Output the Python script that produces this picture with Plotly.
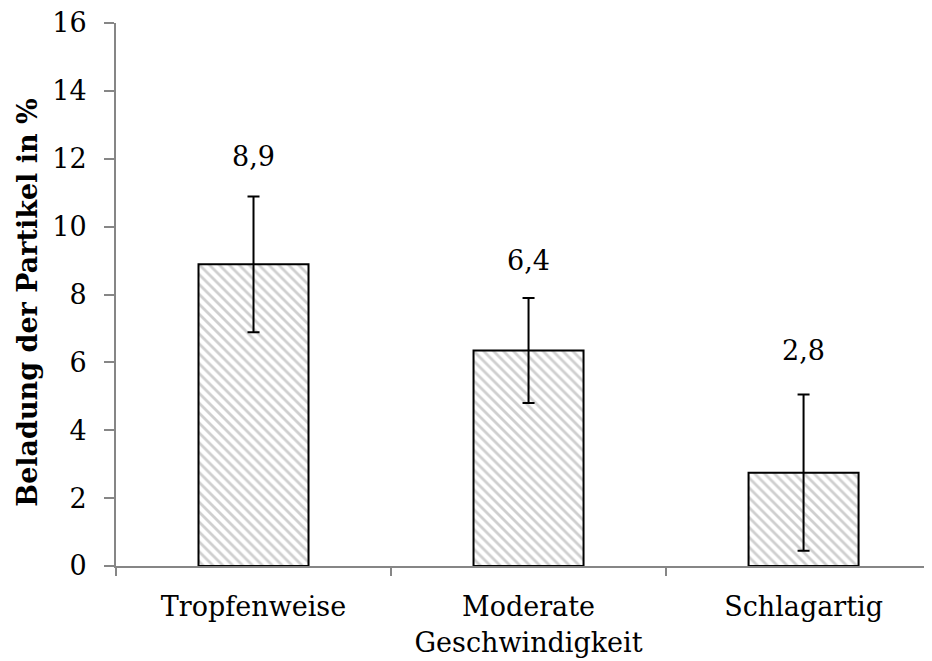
import plotly.graph_objects as go

categories = ["Tropfenweise", "Moderate<br>Geschwindigkeit", "Schlagartig"]
values = [8.89, 6.35, 2.75]
errors = [2.0, 1.55, 2.3]
value_labels = ["8,9", "6,4", "2,8"]
y_ticks = [0, 2, 4, 6, 8, 10, 12, 14, 16]

FONT = "DejaVu Serif"
FS = 27
label_shift = [22, 20, 27]

fig = go.Figure()
fig.add_trace(go.Bar(
    x=categories, y=values, width=0.4,
    marker=dict(color="white",
                line=dict(color="black", width=2),
                pattern=dict(shape="\\", fgcolor="#a0a0a0", bgcolor="white",
                             size=7, solidity=0.4)),
    error_y=dict(type="data", array=errors, visible=True,
                 color="black", thickness=2, width=6),
    showlegend=False,
))

for c, v, e, t, s in zip(categories, values, errors, value_labels, label_shift):
    fig.add_annotation(x=c, y=v + e, text=t, showarrow=False,
                       yanchor="bottom", yshift=s,
                       font=dict(family=FONT, size=FS, color="black"))

fig.add_annotation(x=0, xref="paper", y=0.485, yref="paper",
                   text="<b>Beladung der Partikel in %</b>", textangle=-90,
                   showarrow=False, xanchor="center", yanchor="middle",
                   xshift=-88, font=dict(family=FONT, size=27, color="black"))

fig.update_layout(
    width=924, height=653,
    margin=dict(l=108, r=0, t=15, b=95),
    paper_bgcolor="white", plot_bgcolor="white",
    font=dict(family=FONT, size=FS, color="black"),
    bargap=0.6,
)
fig.update_xaxes(type="category", range=[-0.5, 2.467],
                 showline=True, linecolor="#868686", linewidth=2,
                 ticks="outside", tickson="boundaries", ticklen=8,
                 tickcolor="#868686", tickwidth=2, showgrid=False,
                 tickfont=dict(family=FONT, size=FS, color="black"),
                 ticklabelstandoff=16)
fig.update_yaxes(range=[0, 16], tickvals=y_ticks,
                 showline=True, linecolor="#868686", linewidth=2,
                 ticks="outside", ticklen=10, tickcolor="#868686", tickwidth=2,
                 showgrid=False, zeroline=False, ticklabeloverflow="allow",
                 tickfont=dict(family=FONT, size=FS, color="black"),
                 ticklabelstandoff=12)

fig.write_html("out.html")
